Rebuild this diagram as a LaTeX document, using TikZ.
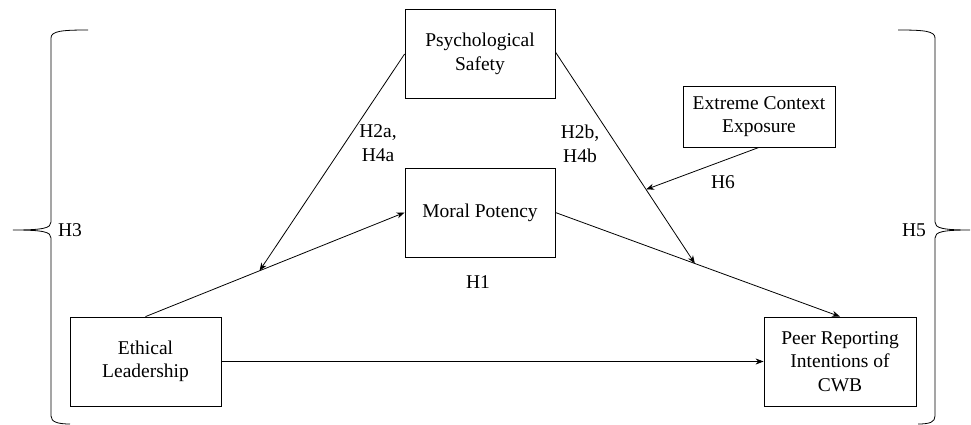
\documentclass[tikz,border=0pt]{standalone}
\usepackage{fontspec}
\setmainfont{Liberation Serif}
\usetikzlibrary{arrows.meta,calc}
\begin{document}
\begin{tikzpicture}[x=1pt,y=-1pt,
  every node/.style={font=\fontsize{19.5}{23.5}\selectfont, inner sep=0pt},
  box/.style={draw, line width=0.8pt, align=center, minimum width=150pt, minimum height=89pt},
  conn/.style={line width=0.8pt, -{Stealth[length=8pt,width=6pt]}},
  plain/.style={line width=0.8pt},
  lbl/.style={align=center}]
\useasboundingbox (0,0) rectangle (971,425);
\node[box] (PS) at (480,54) {Psychological\\Safety};
\node[box] (MP) at (480,212.5) {Moral Potency};
\node[box, minimum width=151pt] (EL) at (145.5,361.5) {Ethical\\Leadership};
\node[box, minimum width=152pt] (PR) at (840,361.5) {Peer Reporting\\Intentions of\\CWB};
\node[box, minimum width=152pt, minimum height=61pt] (EC) at (759,116.5) {Extreme Context\\Exposure};
% paths
\draw[conn] (EL.north) -- (MP.west);
\coordinate (m1) at ($(EL.north)!0.44!(MP.west)$);
\draw[conn] (PS.west) -- (m1);
\draw[conn] (MP.east) -- (PR.north);
\coordinate (m2) at ($(MP.east)!0.49!(PR.north)$);
\draw[conn] ([yshift=2pt]PS.east) -- (m2);
\coordinate (m3) at ($([yshift=2pt]PS.east)!0.65!(m2)$);
\draw[conn] (EC.south) -- (m3);
\draw[conn] (EL.east) -- (PR.west);
% labels
\node[lbl] (l2a) at (378,143) {H2a,\\H4a};
\node[lbl] (l2b) at (580,144) {H2b,\\H4b};
\node (l6) at (723,182) {H6};
\node (l1) at (478,282) {H1};
\node (l3) at (70,230) {H3};
\node (l5) at (914,230) {H5};
% braces
\draw[plain] (88,30) .. controls (62,30) and (51,31) .. (51,38)
  -- (51,222) .. controls (51,228) and (44,230) .. (13,230)
  .. controls (44,230) and (51,232) .. (51,238)
  -- (51,416) .. controls (51,422) and (58,424) .. (70,424);
\draw[plain] (898,30) .. controls (924,30) and (935,31) .. (935,38)
  -- (935,222) .. controls (935,228) and (942,230) .. (970,230)
  .. controls (942,230) and (935,232) .. (935,238)
  -- (935,416) .. controls (935,422) and (930,424) .. (918,424);
\end{tikzpicture}
\end{document}
